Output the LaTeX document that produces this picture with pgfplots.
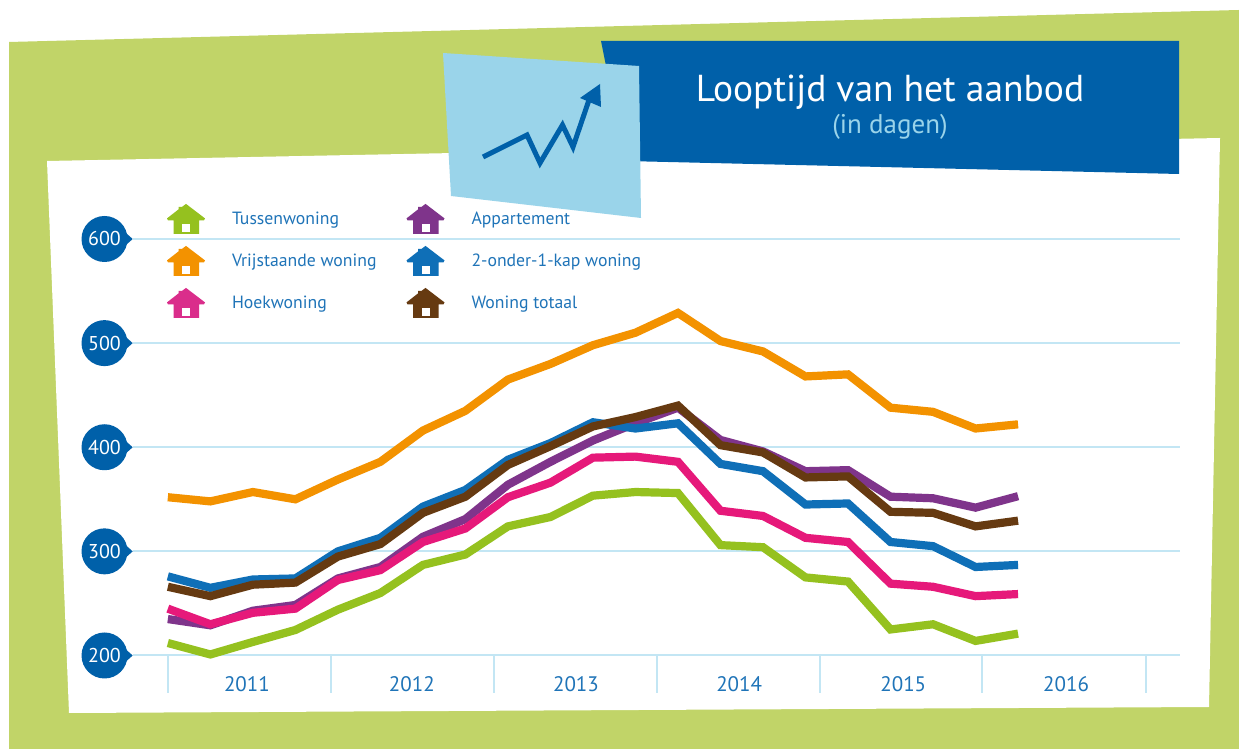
\documentclass[border=0pt]{standalone}
\usepackage{pgfplots}
\usepackage{pgfplotstable}
\usepackage{fontspec}
\setmainfont{PT Sans}
\pgfplotsset{compat=1.18}
\definecolor{bggreen}{HTML}{C1D468}
\definecolor{banner}{HTML}{0060A9}
\definecolor{lightb}{HTML}{9AD4EA}
\definecolor{gridc}{HTML}{C3E6F4}
\definecolor{txt}{HTML}{1F74B8}
\definecolor{cgreen}{HTML}{95C11F}
\definecolor{corange}{HTML}{F39200}
\definecolor{cpink}{HTML}{E6197A}
\definecolor{chouse}{HTML}{DA2D8B}
\definecolor{cpurple}{HTML}{7F348B}
\definecolor{cblue}{HTML}{0F6FB7}
\definecolor{cbrown}{HTML}{663A11}
\pgfplotstableread{
i  orange green purple pink blue brown
0  352 212 235 245 276 266
1  348 201 229 230 265 257
2  357 213 243 241 273 268
3  350 224.5 248.5 245 274 270
4  369 244 274 272.5 300 295
5  386 260 285 282 313 307
6  416 287 314 309 343 337
7  435 297 331 322 359 352.5
8  465 324 364 352 388 383
9  480 333 386 366 404 401
10 498 353.5 406.5 390 424 420
11 510 357 423 391 418 429
12 529 356 438 386 423 440
13 502 306 407 339 384 402
14 492 304 396 334 377 395
15 468 275 377 313 345 371
16 470 271 378 309 346 372
17 438 225 352.5 269 309 338
18 434 230 351 266 305 337
19 418 214 342 257 285 324
20 422 221 353 259 287 329.5
}\datatable
\newcommand\housepic[1]{%
  \path[fill=#1,draw=none] (6.5pt,-15pt) -- (6.5pt,-1.5pt) -- (1pt,-1.5pt) -- (0pt,0.5pt) -- (11.5pt,9.5pt) -- (11.5pt,12pt) -- (15pt,12pt) -- (19pt,15pt)
     -- (38pt,0.5pt) -- (37pt,-1.5pt) -- (32pt,-1.5pt) -- (32pt,-15pt) -- cycle;
  \path[fill=white,draw=none] (15pt,-13.5pt) rectangle (23pt,-5pt);
}
\pgfplotsset{house/.style={legend image code/.code={\housepic{#1}}},
  ser/.style={line width=8.2pt,mark=none,forget plot}}
\begin{document}
\begin{tikzpicture}[x=1pt,y=1pt]
\useasboundingbox (0,0) rectangle (1239,749);
\fill[bggreen] (9,707) -- (1239,739) -- (1239,0) -- (9,0) -- cycle;
\fill[white] (47,588) -- (1220,611) -- (1209,42) -- (69,36) -- cycle;
\fill[banner] (601,708) -- (1179,708) -- (1179,575) -- (625,588) -- cycle;
\fill[lightb] (443,696) -- (639,683) -- (641,531) -- (451,553) -- cycle;
\draw[banner,line width=5pt,miter limit=10] (483,592) -- (527,614) -- (540,586) -- (562.5,624) -- (573,602) -- (590,652);
\fill[banner] (600,665) -- (580,651) -- (601,642) -- cycle;
\node[white,font=\fontsize{37.5}{40}\selectfont,anchor=center] at (890,657) {Looptijd van het aanbod};
\node[lightb,font=\fontsize{27}{30}\selectfont,anchor=center] at (890,622) {(in dagen)};
\begin{axis}[
  at={(133pt,93.5pt)},anchor=south west,
  scale only axis,width=1047pt,height=416.5pt,
  xmin=-0.82,xmax=23.81,ymin=200,ymax=600,
  clip=false,
  axis line style={draw=none},
  ymajorgrids,
  grid style={draw=gridc,line width=2pt},
  ytick={200,300,400,500,600},
  xtick={1.86,5.74,9.6,13.44,17.3,21.13},
  xticklabels={2011,2012,2013,2014,2015,2016},
  minor xtick={0,3.835,7.67,11.5,15.34,19.15,23},
  xtick pos=bottom,ytick pos=left,
  tick align=outside,
  major tick length=0pt,minor tick length=37pt,
  minor tick style={draw=gridc,line width=2pt},
  /pgf/number format/assume math mode=true,
  xticklabel style={anchor=center,yshift=-29pt,text=txt,font=\fontsize{21}{24}\selectfont},
  yticklabel style={circle,fill=banner,text=white,inner sep=0pt,minimum size=46pt,anchor=center,xshift=-28.5pt,
    font=\fontsize{20}{22}\selectfont,
    append after command={\pgfextra{\fill[banner] ([shift={(-4pt,8pt)}]\tikzlastnode.east) -- ++(9pt,-8pt) -- ++(-9pt,-8pt) -- cycle;}}},
  legend columns=2,
  legend cell align=left,
  legend style={draw=none,fill=none,at={(axis cs:-0.02,633.7)},anchor=north west,
    font=\fontsize{17.7}{20}\selectfont,text=txt,row sep=12pt,inner sep=0pt,outer sep=0pt,
    /tikz/every odd column/.append style={column sep=25pt},
    /tikz/every even column/.append style={column sep=28pt}},
]
\addplot[ser,corange] table[x=i,y=orange]{\datatable};
\addplot[ser,cgreen] table[x=i,y=green]{\datatable};
\addplot[ser,cpurple] table[x=i,y=purple]{\datatable};
\addplot[ser,cpink] table[x=i,y=pink]{\datatable};
\addplot[ser,cblue] table[x=i,y=blue]{\datatable};
\addplot[ser,cbrown] table[x=i,y=brown]{\datatable};
\addlegendimage{house=cgreen}\addlegendentry{Tussenwoning}
\addlegendimage{house=cpurple}\addlegendentry{Appartement}
\addlegendimage{house=corange}\addlegendentry{Vrijstaande woning}
\addlegendimage{house=cblue}\addlegendentry{2-onder-1-kap woning}
\addlegendimage{house=chouse}\addlegendentry{Hoekwoning}
\addlegendimage{house=cbrown}\addlegendentry{Woning totaal}
\end{axis}
\end{tikzpicture}
\end{document}
